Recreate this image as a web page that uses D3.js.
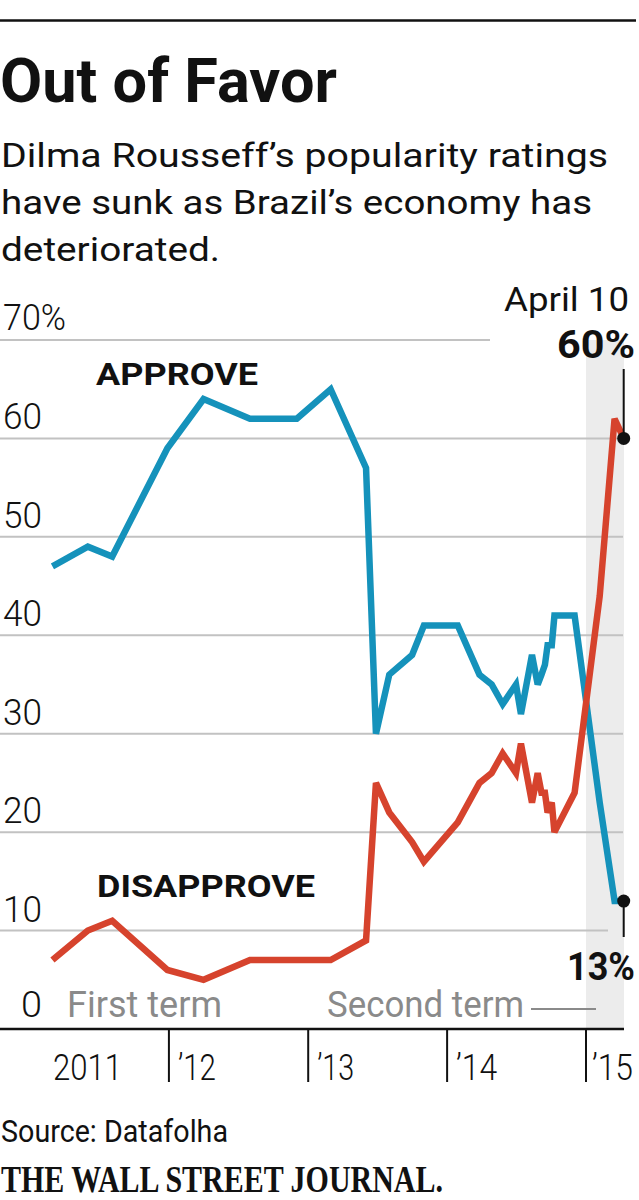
<!DOCTYPE html>
<html><head><meta charset="utf-8">
<script src="https://cdn.jsdelivr.net/npm/d3@7"></script>
<style>body{margin:0;background:#fff}svg{display:block}</style>
</head><body>
<svg id="c" width="639" height="1200"></svg>
<script>
// ---- data ----
const dates = ["2011-03-01","2011-06-02","2011-08-05","2011-12-28","2012-04-01","2012-08-01","2012-12-02","2013-03-01","2013-06-02","2013-06-28","2013-08-02","2013-10-01","2013-11-01","2014-01-29","2014-03-27","2014-04-28","2014-05-27","2014-07-01","2014-07-14","2014-08-12","2014-08-27","2014-09-06","2014-09-15","2014-09-22","2014-10-03","2014-10-10","2014-12-02","2015-02-06","2015-03-17","2015-04-10"];
const approve =    [47,49,48,59,64,62,62,65,57,30,36,38,41,41,36,35,33,35,32,38,35,36,37,39,39,42,42,23,13,13];
const disapprove = [ 7,10,11, 6, 5, 7, 7, 7, 9,25,22,19,17,21,25,26,28,26,29,23,26,24,24,22,23,20,24,44,62,60];
const yTicks = [0,10,20,30,40,50,60,70];
const yearTicks = ["2011-01-01","2012-01-01","2013-01-01","2014-01-01","2015-01-01"];
const yearLabels = ["2011","\u201912","\u201913","\u201914","\u201915"];
const domainDates = ["2011-01-01","2015-04-10"];
const secondTermStart = "2015-01-01";

const parse = d3.utcParse("%Y-%m-%d");
const svg = d3.select("#c");
const SANS = "Roboto, 'Liberation Sans', sans-serif";
const BLUE = "#1592bb", RED = "#d6432d", GRID = "#c2c2c2", GRAY = "#8a8a8a";

function fit(sel, w){ return sel.attr("textLength", w).attr("lengthAdjust","spacingAndGlyphs"); }
function txt(t, x, y, size, weight, opts={}){
  const s = svg.append("text").attr("x",x).attr("y",y).text(t)
    .attr("font-family", opts.family || SANS).attr("font-size",size)
    .attr("font-weight",weight).attr("fill",opts.fill||"#111")
    .attr("text-anchor",opts.anchor||"start");
  if(opts.w) fit(s, opts.w);
  return s;
}

// ---- header ----
svg.append("line").attr("x1",0).attr("x2",636).attr("y1",20.5).attr("y2",20.5).attr("stroke","#111").attr("stroke-width",2.6);
txt("Out of Favor", 0, 102, 62, 700, {w:337});
txt("Dilma Rousseff\u2019s popularity ratings", 1, 167, 33, 400, {w:607});
txt("have sunk as Brazil\u2019s economy has", 1, 214, 33, 400, {w:591});
txt("deteriorated.", 1, 261, 33, 400, {w:219});

// ---- scales ----
const x = d3.scaleUtc().domain(domainDates.map(parse)).range([30, 623.7]);
const y = d3.scaleLinear().domain([0,70]).range([1029, 340]);
const xEnd = 624;

// second-term band
svg.append("rect").attr("x", x(parse(secondTermStart))).attr("y", y(70))
  .attr("width", xEnd - x(parse(secondTermStart))).attr("height", y(0)-y(70)).attr("fill","#ececec");

// gridlines
yTicks.filter(v=>v>0).forEach(v=>{
  const x2 = v===70 ? 490 : (v===10 ? 608 : 623);
  svg.append("line").attr("x1",0).attr("x2",x2).attr("y1",y(v)).attr("y2",y(v))
    .attr("stroke",GRID).attr("stroke-width",2);
});

// y labels
yTicks.forEach(v=>{
  if(v===70) txt("70%", 3, y(v)-10, 36, 300, {w:63});
  else if(v===0) txt("0", 42, y(v)-12, 36, 300, {anchor:"end", w:21});
  else txt(String(v), 42, y(v)-9, 36, 300, {anchor:"end", w:39});
});

// term labels
txt("First term", 67, 1017, 36, 400, {fill:GRAY, w:155});
txt("Second term", 327, 1017, 36, 400, {fill:GRAY, w:197});
svg.append("line").attr("x1",531).attr("x2",596).attr("y1",1009).attr("y2",1009).attr("stroke",GRAY).attr("stroke-width",2);

// x axis
svg.append("line").attr("x1",0).attr("x2",xEnd).attr("y1",y(0)).attr("y2",y(0)).attr("stroke","#111").attr("stroke-width",2.6);
const yearW = [69,38,37,41,41];
const yearDx = [23,9,9,9,6];
yearTicks.forEach((d,i)=>{
  const xx = x(parse(d));
  if(i>0) svg.append("line").attr("x1",xx).attr("x2",xx).attr("y1",y(0)).attr("y2",1082).attr("stroke","#111").attr("stroke-width",2);
  txt(yearLabels[i], xx+yearDx[i], 1080, 37, 300, {w:yearW[i]});
});

// lines
const pts = (vals)=>vals.map((v,i)=>[x(parse(dates[i])), y(v)]);
const line = d3.line();
svg.append("path").attr("d", line(pts(approve))).attr("fill","none").attr("stroke",BLUE)
  .attr("stroke-width",6.5).attr("stroke-linejoin","miter").attr("stroke-miterlimit",3);
svg.append("path").attr("d", line(pts(disapprove))).attr("fill","none").attr("stroke",RED)
  .attr("stroke-width",6.5).attr("stroke-linejoin","miter").attr("stroke-miterlimit",3);

// series labels
txt("APPROVE", 96, 385, 32, 700, {w:162});
txt("DISAPPROVE", 97, 897, 32, 700, {w:218});

// end annotations
const last = dates.length-1;
const lx = x(parse(dates[last]));
svg.append("line").attr("x1",lx).attr("x2",lx).attr("y1",369).attr("y2",y(disapprove[last])).attr("stroke","#111").attr("stroke-width",2);
svg.append("line").attr("x1",lx).attr("x2",lx).attr("y1",y(approve[last])).attr("y2",937).attr("stroke","#111").attr("stroke-width",2);
svg.append("circle").attr("cx",lx).attr("cy",y(disapprove[last])).attr("r",6.5).attr("fill","#111");
svg.append("circle").attr("cx",lx).attr("cy",y(approve[last])).attr("r",6.5).attr("fill","#111");
txt("April 10", 629, 311, 34, 400, {anchor:"end", w:125});
txt(disapprove[last]+"%", 635, 358, 38, 700, {anchor:"end", w:78});
txt(approve[last]+"%", 635, 980, 38, 700, {anchor:"end", w:68});

// footer
txt("Source: Datafolha", 1, 1142, 31, 400, {w:227});
txt("THE WALL STREET JOURNAL.", 1, 1192, 38, 700, {family:"'Liberation Serif', 'DejaVu Serif', serif", w:442});
</script>
</body></html>
